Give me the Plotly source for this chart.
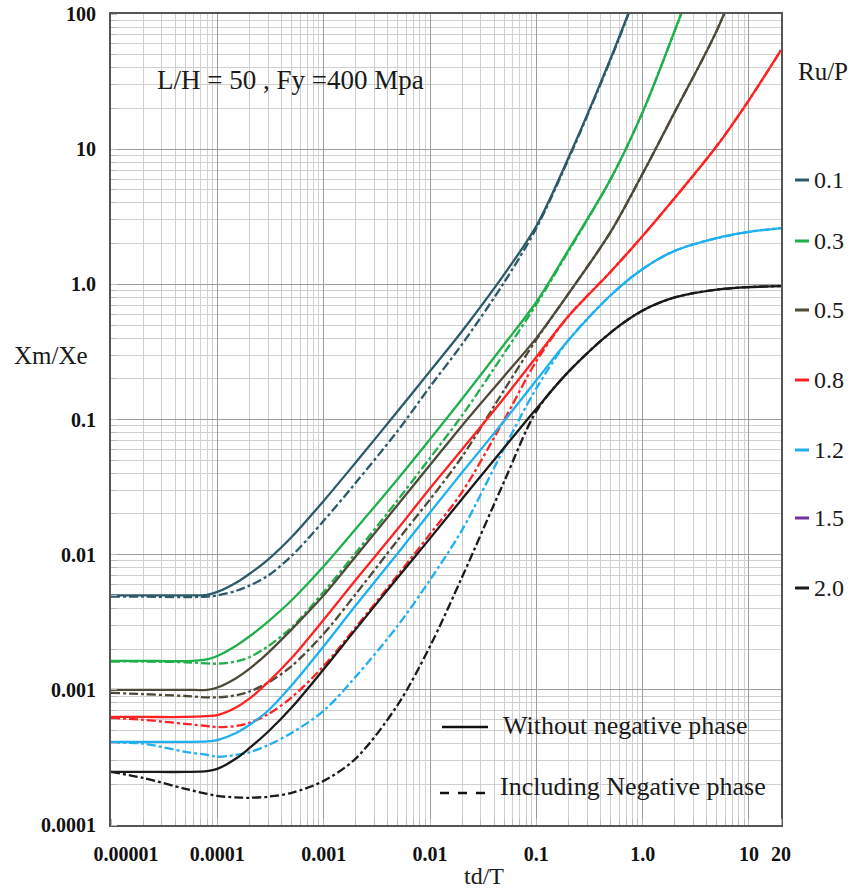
import plotly.graph_objects as go

# ---------------- data ----------------
td_T = [1e-5, 2e-5, 5e-5, 8e-5, 1e-4, 1.5e-4, 2e-4, 3e-4, 5e-4, 1e-3, 2e-3, 5e-3, 1e-2,
        2e-2, 5e-2, 0.1, 0.2, 0.5, 1, 2, 5, 10, 20]

ru_labels = ["0.1", "0.3", "0.5", "0.8", "1.2", "1.5", "2.0"]
ru_colors = ["#2C5A69", "#1FAF4B", "#4E4939", "#FF2222", "#1EB0F0", "#7030A0", "#1A1A1A"]

# Without negative phase (solid)
w_01 = [0.005, 0.005, 0.005, 0.00505, 0.0053, 0.0062, 0.0072, 0.0092, 0.0135, 0.025, 0.048, 0.116, 0.228,
        0.45, 1.19, 2.7, 8.6, 47, 190, None, None, None, None]
w_03 = [0.00164, 0.00164, 0.00163, 0.00168, 0.00178, 0.00212, 0.00248, 0.0032, 0.0046, 0.0082, 0.0155, 0.0365, 0.0715,
        0.142, 0.36, 0.74, 1.79, 6.0, 18.8, 75, 500, None, None]
w_05 = [0.001, 0.001, 0.001, 0.001, 0.00104, 0.00122, 0.00143, 0.00188, 0.0028, 0.0050, 0.0097, 0.0235, 0.046,
        0.09, 0.21, 0.4, 0.85, 2.44, 6.6, 18.8, 76, 290, None]
w_08 = [0.00063, 0.00063, 0.00063, 0.00064, 0.00065, 0.00074, 0.00086, 0.00114, 0.00172, 0.0033, 0.0065, 0.0156, 0.031,
        0.06, 0.145, 0.29, 0.58, 1.24, 2.28, 4.35, 10.6, 23.1, 54]
w_12 = [0.000412, 0.000412, 0.000412, 0.000415, 0.000425, 0.00048, 0.00055, 0.0007, 0.00108, 0.0021, 0.0042, 0.0103, 0.0205,
        0.0405, 0.098, 0.195, 0.385, 0.83, 1.3, 1.77, 2.2, 2.44, 2.61]
w_20 = [0.000247, 0.000247, 0.000247, 0.00025, 0.00026, 0.00031, 0.00037, 0.00049, 0.00074, 0.00142, 0.0028, 0.0068, 0.0132,
        0.0258, 0.062, 0.12, 0.225, 0.44, 0.64, 0.8, 0.915, 0.955, 0.97]

# Including negative phase (dash-dot)
n_01 = [0.0049, 0.0049, 0.00485, 0.0049, 0.0050, 0.0054, 0.0059, 0.0070, 0.0098, 0.0178, 0.034, 0.083, 0.175,
        0.36, 1.04, 2.6, 8.4, 46, 188, None, None, None, None]
n_03 = [0.00162, 0.00162, 0.0016, 0.00157, 0.00156, 0.00162, 0.00174, 0.0021, 0.0029, 0.0053, 0.0103, 0.0255, 0.052,
        0.107, 0.31, 0.71, 1.75, 6.0, 18.8, 75, 500, None, None]
n_05 = [0.00095, 0.00093, 0.0009, 0.00088, 0.00088, 0.00091, 0.00097, 0.00113, 0.0015, 0.0026, 0.0051, 0.0129, 0.0256,
        0.053, 0.166, 0.39, 0.85, 2.44, 6.6, 18.8, 76, 290, None]
n_08 = [0.00062, 0.0006, 0.00056, 0.00054, 0.00053, 0.00054, 0.00057, 0.00066, 0.00088, 0.0015, 0.0029, 0.0071, 0.0142,
        0.029, 0.1, 0.27, 0.58, 1.24, 2.28, 4.35, 10.6, 23.1, 54]
n_12 = [0.000406, 0.0004, 0.000348, 0.00033, 0.00032, 0.00033, 0.000345, 0.00039, 0.00048, 0.0007, 0.00125, 0.003, 0.0065,
        0.0152, 0.0617, 0.17, 0.385, 0.83, 1.3, 1.77, 2.2, 2.44, 2.61]
n_20 = [0.000247, 0.000223, 0.000185, 0.00017, 0.000164, 0.00016, 0.000159, 0.000162, 0.000173, 0.000212, 0.00031, 0.00078, 0.0021,
        0.0068, 0.035, 0.115, 0.225, 0.44, 0.64, 0.8, 0.915, 0.955, 0.97]

x_tickvals = [1e-5, 1e-4, 1e-3, 1e-2, 0.1, 1, 10, 20]
x_ticktext = ["\u2007\u2007\u20070.00001", "0.0001", "0.001", "0.01", "0.1", "1.0", "10", "20"]
y_tickvals = [1e-4, 1e-3, 1e-2, 0.1, 1, 10, 100]
y_ticktext = ["0.0001", "0.001", "0.01", "0.1", "1.0", "10", "100"]

# ---------------- figure ----------------
W, H = 854, 893
L, R, T, B = 111, 73, 14, 68
PW, PH = W - L - R, H - T - B

def pxx(x):
    return (x - L) / PW

def pxy(y):
    return (H - B - y) / PH

SERIF = "Liberation Serif, Times New Roman, serif"
TXT = "#1a1a1a"

fig = go.Figure()

solid_sets = [(w_01, 0), (w_03, 1), (w_05, 2), (w_08, 3), (w_12, 4), (w_20, 6)]
dash_sets = [(n_01, 0), (n_03, 1), (n_05, 2), (n_08, 3), (n_12, 4), (n_20, 6)]

for ys, ci in dash_sets:
    fig.add_trace(go.Scatter(x=td_T, y=ys, mode="lines", showlegend=False,
                             line=dict(color=ru_colors[ci], width=2.3, dash="dashdot",
                                       shape="spline", smoothing=0.9)))
for ys, ci in solid_sets:
    fig.add_trace(go.Scatter(x=td_T, y=ys, mode="lines", showlegend=False,
                             line=dict(color=ru_colors[ci], width=2.3,
                                       shape="spline", smoothing=0.9)))

shapes = []
annotations = []


def note(xp, yp, text, size, anchor="center"):
    annotations.append(dict(xref="paper", yref="paper", x=pxx(xp), y=pxy(yp),
                            xanchor=anchor, yanchor="middle", text=text, showarrow=False,
                            font=dict(family=SERIF, size=size, color=TXT)))


# white box behind the parameter text
shapes.append(dict(type="rect", xref="paper", yref="paper", layer="between",
                   x0=pxx(113), x1=pxx(450), y0=pxy(143), y1=pxy(28),
                   fillcolor="white", line=dict(width=0)))
note(290, 80, "L/H = 50 , Fy =400 Mpa", 27)

# bottom legend box
shapes.append(dict(type="rect", xref="paper", yref="paper", layer="between",
                   x0=pxx(415), x1=pxx(778), y0=pxy(818), y1=pxy(698),
                   fillcolor="white", line=dict(width=0)))
shapes.append(dict(type="line", xref="paper", yref="paper",
                   x0=pxx(442), x1=pxx(488), y0=pxy(727), y1=pxy(727),
                   line=dict(color="#111", width=2.5)))
shapes.append(dict(type="line", xref="paper", yref="paper",
                   x0=pxx(440), x1=pxx(494), y0=pxy(793), y1=pxy(793),
                   line=dict(color="#111", width=2.5, dash="dash")))
note(501, 725, "Without negative phase", 26, "left")
note(498, 786, "Including Negative phase", 26, "left")

# right-hand Ru/P key
note(823, 72, "Ru/P", 25)
key_y = [180, 241, 310, 380, 450, 518, 588]
for lab, col, yy in zip(ru_labels, ru_colors, key_y):
    shapes.append(dict(type="line", xref="paper", yref="paper",
                       x0=pxx(795), x1=pxx(809), y0=pxy(yy), y1=pxy(yy),
                       line=dict(color=col, width=3)))
    note(812, yy, lab, 24, "left")

# axis titles
note(51, 355, "Xm/Xe", 25)
note(484, 876, "td/T", 24)

axis_common = dict(type="log", automargin=False, showline=True, linecolor="#555",
                   linewidth=2, mirror=True,
                   showgrid=True, gridcolor="#9c9c9c", gridwidth=1, zeroline=False,
                   ticks="", tickfont=dict(family=SERIF, size=20, color="#111", weight="bold"),
                   minor=dict(dtick="D1", showgrid=True, gridcolor="#d0d0d0", gridwidth=1,
                              ticks="inside", ticklen=6, tickcolor="#bbb"))

fig.update_layout(
    width=W, height=H,
    margin=dict(l=L, r=R, t=T, b=B),
    paper_bgcolor="white", plot_bgcolor="white",
    shapes=shapes, annotations=annotations,
    xaxis=dict(range=[-5, 1.30103], tickmode="array", tickvals=x_tickvals,
               ticktext=x_ticktext, ticklabelstandoff=10, **axis_common),
    yaxis=dict(range=[-4, 2], tickmode="array", tickvals=y_tickvals,
               ticktext=y_ticktext, ticklabelstandoff=9, **axis_common),
)

fig.write_html("out.html")
